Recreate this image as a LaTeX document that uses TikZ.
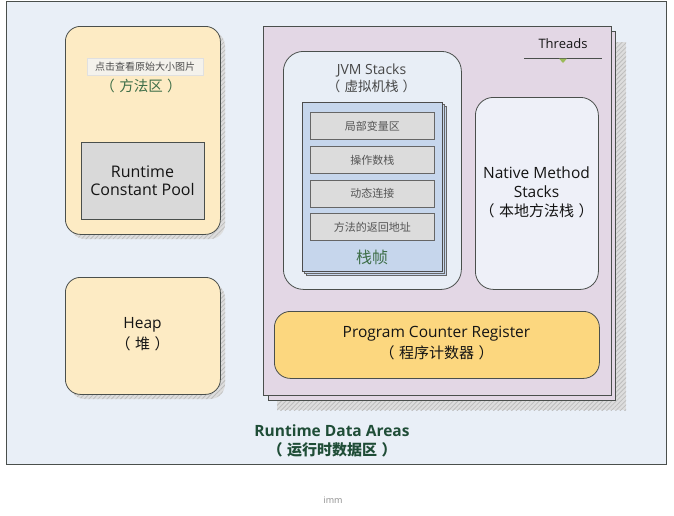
\documentclass[tikz,border=0pt]{standalone}
\usepackage{fontspec}
\setmainfont{Open Sans}
\newfontfamily\cjk{Noto Sans CJK SC}
\usetikzlibrary{patterns.meta}
\newcommand\prn[1]{（\hspace{0.3em}#1\hspace{0.3em}）}
\definecolor{framebg}{HTML}{E9EFF7}
\definecolor{cream}{HTML}{FDEBC4}
\definecolor{poolgray}{HTML}{D9D9D9}
\definecolor{threadbg}{HTML}{E3D7E5}
\definecolor{jvmbg}{HTML}{E8EEF6}
\definecolor{framebl}{HTML}{C6D6EC}
\definecolor{rowgray}{HTML}{DCDCDC}
\definecolor{nativebg}{HTML}{EEF0F8}
\definecolor{pcyellow}{HTML}{FCD77F}
\definecolor{edge}{HTML}{4A4F4C}
\definecolor{midgreen}{HTML}{3E6E48}
\definecolor{darkgreen}{HTML}{1F4D37}
\definecolor{hatchbg}{HTML}{DDDDDD}
\definecolor{hatchln}{HTML}{BDBDBD}
\definecolor{tipbg}{HTML}{F4F2EC}
\definecolor{olive}{HTML}{9BBB59}
\definecolor{txt}{HTML}{141414}
\definecolor{rowtxt}{HTML}{555555}
\tikzset{
  box/.style={draw=edge, line width=0.8pt, inner sep=0pt, anchor=north west},
  hatch/.style={fill=hatchbg, postaction={pattern={Lines[angle=45,distance=3.2pt,line width=0.8pt]}, pattern color=hatchln}},
  lbl/.style={text=txt, align=center, inner sep=0pt},
  rowbox/.style={box, fill=rowgray, minimum width=124pt, minimum height=27pt, draw=black!60},
  rowtext/.style={lbl, text=rowtxt, font=\cjk\fontsize{11}{12}\selectfont},
}
\begin{document}
\begin{tikzpicture}[x=1pt,y=-1pt]
\useasboundingbox (0,0) rectangle (674,515);
\fill[white] (0,0) rectangle (674,515);
% outer frame
\node[box, fill=framebg, minimum width=660pt, minimum height=463pt] (rda) at (6,1) {};
% method area
\fill[hatch, rounded corners=15pt] (70,31) rectangle (225,239);
\node[box, fill=cream, rounded corners=15pt, minimum width=155pt, minimum height=208pt] (ma) at (65,26) {};
\node[fill=tipbg, draw=black!12, minimum width=116pt, minimum height=17pt, inner sep=0pt, text=black!70, font=\cjk\fontsize{10}{10}\selectfont] (tip) at (145,66.5) {点击查看原始大小图片};
\node[lbl, text=midgreen, font=\cjk\fontsize{14.5}{16}\selectfont] (mal) at (141,86) {\prn{方法区}};
\node[box, fill=poolgray, minimum width=123pt, minimum height=77pt] (pool) at (81,142) {};
\node[lbl, font=\fontsize{16}{18.5}\selectfont] (pooll) at (142.5,180.5) {Runtime\\Constant Pool};
% heap
\fill[hatch, rounded corners=15pt] (70,283) rectangle (225,399);
\node[box, fill=cream, rounded corners=15pt, minimum width=155pt, minimum height=117pt] (heap) at (65,277) {};
\node[lbl, font=\fontsize{15.5}{18}\selectfont] (heapl) at (142.5,325) {Heap};
\node[lbl, font=\cjk\fontsize{15}{16}\selectfont] (heapc) at (142.5,344) {\prn{堆}};
% threads
\fill[hatch] (277,42) rectangle (626,410);
\node[box, fill=threadbg, minimum width=347pt, minimum height=369pt] (thr2) at (268,31) {};
\node[box, fill=threadbg, minimum width=348pt, minimum height=369pt] (thr) at (263,26) {};
\node[lbl, font=\fontsize{13}{14}\selectfont] (thrl) at (563,44) {Threads};
\coordinate (tl1) at (524,58);
\coordinate (tl2) at (602,58);
\draw[edge, line width=0.9pt] (tl1) -- (tl2);
\fill[olive] (559,58.5) -- (567,58.5) -- (563,63) -- cycle;
% JVM stacks
\node[box, fill=jvmbg, rounded corners=20pt, minimum width=178pt, minimum height=238pt] (jvm) at (283,51) {};
\node[lbl, text=black!72, font=\fontsize{14}{15}\selectfont] (jvml) at (371.5,70) {JVM Stacks};
\node[lbl, text=black!72, font=\cjk\fontsize{13.5}{14}\selectfont] (jvmc) at (371.5,86) {\prn{虚拟机栈}};
% frames
\node[box, fill=framebl, minimum width=140pt, minimum height=169pt, draw=black!60] (fr3) at (306,106) {};
\node[box, fill=framebl, minimum width=140pt, minimum height=169pt, draw=black!60] (fr2) at (304,104) {};
\node[box, fill=framebl, minimum width=140pt, minimum height=169pt, draw=black!70] (fr) at (302,102) {};
\node[rowbox] (r1) at (310,112) {};
\node[rowbox] (r2) at (310,146) {};
\node[rowbox] (r3) at (310,179.5) {};
\node[rowbox] (r4) at (310,213) {};
\node[rowtext] at (r1.center) {局部变量区};
\node[rowtext] at (r2.center) {操作数栈};
\node[rowtext] at (r3.center) {动态连接};
\node[rowtext] at (r4.center) {方法的返回地址};
\node[lbl, text=midgreen, font=\cjk\fontsize{16}{17}\selectfont] (frl) at (372,257) {栈帧};
% native
\node[box, fill=nativebg, rounded corners=18pt, minimum width=123pt, minimum height=192pt] (nat) at (475,97) {};
\node[lbl, font=\fontsize{15.5}{19}\selectfont] (natl) at (536.5,182.5) {Native Method\\Stacks};
\node[lbl, font=\cjk\fontsize{15}{16}\selectfont] (natc) at (536.5,211) {\prn{本地方法栈}};
% program counter
\node[box, fill=pcyellow, rounded corners=16pt, minimum width=325pt, minimum height=67pt] (pc) at (274,311) {};
\node[lbl, font=\fontsize{15.5}{17}\selectfont] (pcl) at (436.5,334) {Program Counter Register};
\node[lbl, font=\cjk\fontsize{15}{16}\selectfont] (pcc) at (436.5,353) {\prn{程序计数器}};
% caption
\node[lbl, text=darkgreen, font=\bfseries\fontsize{15.5}{17}\selectfont] (cap) at (332,431) {Runtime Data Areas};
\node[lbl, text=darkgreen, font=\cjk\bfseries\fontsize{15}{16}\selectfont] (capc) at (332,450) {\prn{运行时数据区}};
\node[lbl, text=black!45, font=\fontsize{9}{10}\selectfont] (imm) at (333,500) {imm};
\end{tikzpicture}
\end{document}
